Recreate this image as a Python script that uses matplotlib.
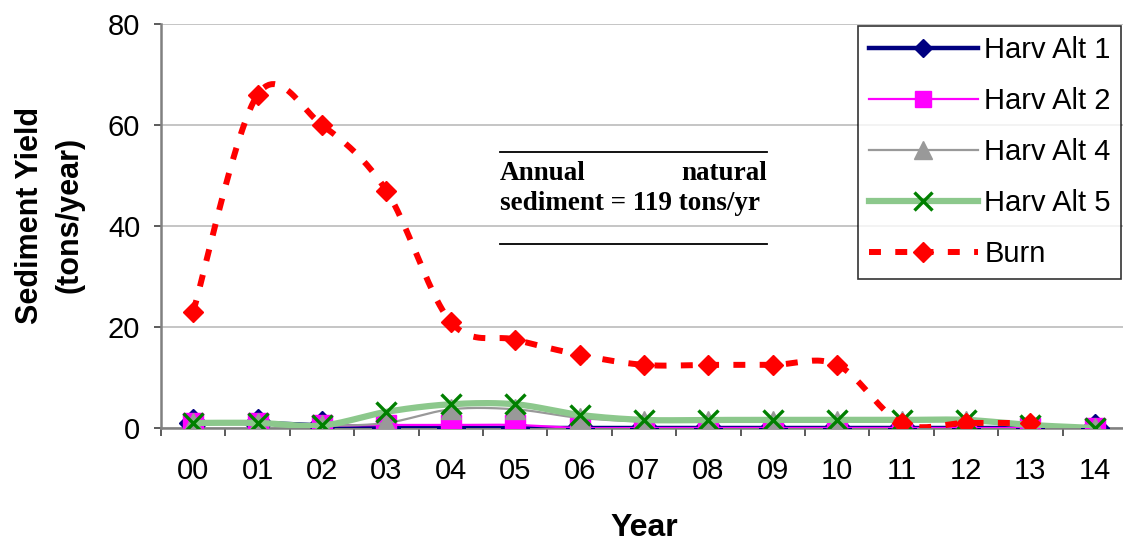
import numpy as np
import matplotlib
matplotlib.use("Agg")
import matplotlib.pyplot as plt
from matplotlib.lines import Line2D

plt.rcParams['font.family'] = ['Liberation Sans', 'DejaVu Sans']

# sediment yield per year (tons/year)
years = ['00', '01', '02', '03', '04', '05', '06', '07', '08', '09', '10', '11', '12', '13', '14']
harv_alt1 = [1, 1, 0.5, 0, 0, 0, 0, 0, 0, 0, 0, 0, 0, 0, 0]
harv_alt2 = [1, 1, 0.5, 0.6, 0.6, 0.6, 0, 0, 0, 0, 0, 0, 0, 0, 0]
harv_alt4 = [1, 1, 0.5, 1.0, 3.7, 3.7, 2.0, 1.3, 1.3, 1.3, 1.3, 1.3, 1.3, 0.5, 0]
harv_alt5 = [1, 1, 0.5, 3.2, 4.7, 4.7, 2.6, 1.6, 1.6, 1.6, 1.6, 1.6, 1.6, 0.6, 0]
burn = [23, 66, 60, 47, 21, 17.5, 14.5, 12.5, 12.5, 12.5, 12.5, 1, 1, 1]


def smooth(y, n=24):
    # bezier smoothing like excel's "smoothed line" option
    y = np.asarray(y, dtype=float)
    x = np.arange(len(y), dtype=float)
    pts = np.column_stack([x, y])
    out = [pts[0]]
    t = np.linspace(0, 1, n)[1:, None]
    for i in range(len(pts) - 1):
        p0 = pts[max(i - 1, 0)]
        p1 = pts[i]
        p2 = pts[i + 1]
        p3 = pts[min(i + 2, len(pts) - 1)]
        c1 = p1 + (p2 - p0) / 6
        c2 = p2 - (p3 - p1) / 6
        seg = ((1 - t) ** 3) * p1 + 3 * ((1 - t) ** 2) * t * c1 + 3 * (1 - t) * t ** 2 * c2 + t ** 3 * p2
        out.extend(seg)
    out = np.array(out)
    return out[:, 0], out[:, 1]


fig = plt.figure(figsize=(11.23, 5.42), dpi=100)
ax = fig.add_axes([161 / 1123, 114 / 542, 966 / 1123, 404 / 542])

# (values, name, line style, marker style, legend marker size)
series = [
    (harv_alt1, 'Harv Alt 1', dict(color='#000080', lw=3.2, ls='-'),
     dict(marker='D', ms=14.5, mfc='#000080', mec='#000080'), 9),
    (harv_alt2, 'Harv Alt 2', dict(color='#FF00FF', lw=1.6, ls='-'),
     dict(marker='s', ms=14, mfc='#FF00FF', mec='#FF00FF'), 11),
    (harv_alt4, 'Harv Alt 4', dict(color='#999999', lw=1.6, ls='-'),
     dict(marker='^', ms=14, mfc='#999999', mec='#999999'), 13),
    (harv_alt5, 'Harv Alt 5', dict(color='#8CC88C', lw=4.5, ls='-'),
     dict(marker='x', ms=14, mfc='none', mec='#008000', mew=2.4), 13),
    (burn, 'Burn', dict(color='#FF0000', lw=4.3, ls=(0, (2.0, 2.4))),
     dict(marker='D', ms=9.8, mfc='#FF0000', mec='#FF0000'), 9.8),
]

handles = []
for k, (vals, name, lstyle, mstyle, leg_ms) in enumerate(series):
    sx, sy = smooth(vals)
    ax.plot(sx, sy, zorder=3 + k, solid_capstyle='butt', dash_capstyle='butt', **lstyle)
    ax.plot(np.arange(len(vals)), vals, ls='none', zorder=3 + k, **mstyle)
    hstyle = dict(mstyle, ms=leg_ms)
    handles.append(Line2D([], [], label=name, dash_capstyle='butt', **lstyle, **hstyle))

ax.set_xlim(-0.5, len(years) - 0.5)
ax.set_ylim(0, 80)
ax.set_yticks([0, 20, 40, 60, 80])
ax.yaxis.grid(True, color='#C0C0C0', lw=1.3)
ax.set_axisbelow(True)

# category ticks sit between the years, labels centred on each year
ax.set_xticks(np.arange(len(years) + 1) - 0.5)
ax.set_xticklabels([])
ax.set_xticks(np.arange(len(years)), minor=True)
ax.set_xticklabels(years, minor=True)
ax.tick_params(axis='x', which='major', length=6, width=1.2, color='#404040', direction='out')
ax.tick_params(axis='x', which='minor', length=0, pad=21, labelsize=21)
ax.tick_params(axis='y', length=5, width=1.2, color='#404040', pad=10, labelsize=21)

for side in ['top', 'right']:
    ax.spines[side].set_visible(False)
ax.spines['left'].set_color('#808080')
ax.spines['left'].set_linewidth(1.8)
ax.spines['bottom'].set_color('#808080')
ax.spines['bottom'].set_linewidth(1.8)

ax.set_xlabel('Year', fontsize=23, fontweight='bold', labelpad=20)
ax.set_ylabel('Sediment Yield\n(tons/year)', fontsize=22, fontweight='bold',
              linespacing=1.4)
ax.yaxis.set_label_coords(-0.079, 0.527)

leg = ax.legend(handles=handles, loc='upper right', bbox_to_anchor=(1121 / 1123, 1 - 26 / 542),
                bbox_transform=fig.transFigure, fontsize=21, frameon=True, fancybox=False,
                edgecolor='black', handlelength=3.75, handletextpad=0.22, labelspacing=0.79,
                borderpad=0.35, borderaxespad=0, numpoints=1)
leg.get_frame().set_linewidth(1.2)
leg.set_zorder(20)

# annotation box with the natural sediment figure
serif = ['Liberation Serif', 'DejaVu Serif']
x0, x1 = (500 - 161) / 966, (767 - 161) / 966
ax.plot([x0, x1], [(428 - 152) / 404] * 2, color='black', lw=1.3, transform=ax.transAxes, zorder=10)
ax.plot([x0, x1], [(428 - 244) / 404] * 2, color='black', lw=1.3, transform=ax.transAxes, zorder=10)
ax.text(x0, (428 - 180) / 404, 'Annual', transform=ax.transAxes, fontsize=19.5, fontweight='bold',
        family=serif, ha='left', va='baseline', zorder=10)
ax.text(x1, (428 - 180) / 404, 'natural', transform=ax.transAxes, fontsize=19.5, fontweight='bold',
        family=serif, ha='right', va='baseline', zorder=10)
ax.text(x0, (428 - 210) / 404, 'sediment = 119 tons/yr', transform=ax.transAxes, fontsize=19.5,
        fontweight='bold', family=serif, ha='left', va='baseline', zorder=10)

fig.savefig('out.png', dpi=100)
